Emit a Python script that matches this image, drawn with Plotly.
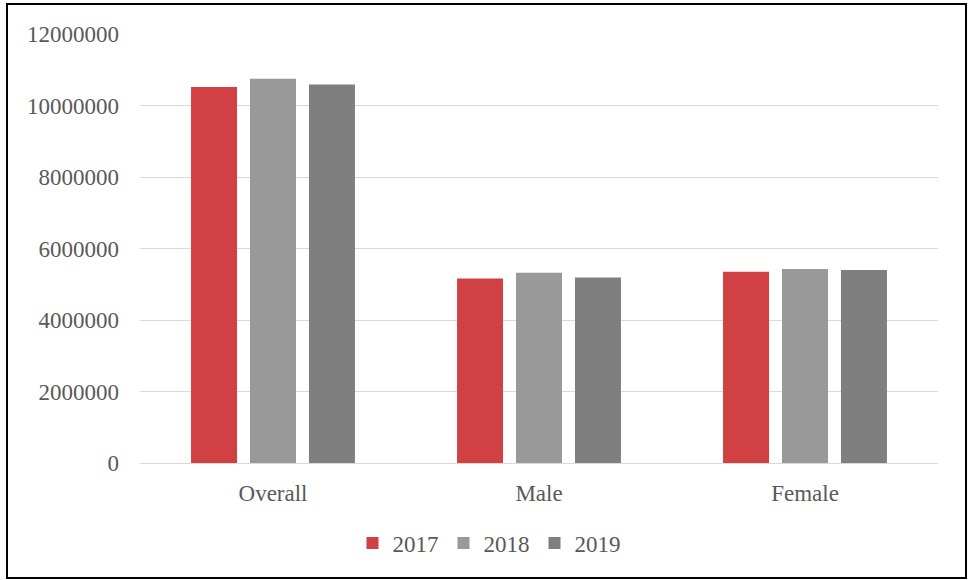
import plotly.graph_objects as go

categories = ["Overall", "Male", "Female"]
years = ["2017", "2018", "2019"]
values_2017 = [10520000, 5160000, 5350000]
values_2018 = [10750000, 5320000, 5430000]
values_2019 = [10590000, 5190000, 5400000]
series = [values_2017, values_2018, values_2019]
colors = ["#D14043", "#999999", "#7F7F7F"]
y_ticks = [0, 2000000, 4000000, 6000000, 8000000, 10000000, 12000000]

FONT = "Liberation Serif, Times New Roman, serif"

fig = go.Figure()
for name, vals, col in zip(years, series, colors):
    fig.add_trace(go.Bar(x=categories, y=vals, name=name, marker_color=col,
                         marker_line_width=0))

L, R, T, B = 140, 31, 34, 117
W, H = 969, 580
pw, ph = W - L - R, H - T - B

def px_x(px):
    return (px - L) / pw

def px_y(py):
    return (H - B - py) / ph

fig.update_layout(
    width=W, height=H,
    margin=dict(l=L, r=R, t=T, b=B),
    paper_bgcolor="white", plot_bgcolor="white",
    font=dict(family=FONT, size=23, color="#595959"),
    barmode="group", bargap=0.335, bargroupgap=0.22,
    showlegend=True,
    legend=dict(orientation="h", x=px_x(489), xanchor="center",
                y=px_y(543), yanchor="middle",
                font=dict(family=FONT, size=23, color="#595959"),
                itemwidth=30, traceorder="normal",
                entrywidth=46, entrywidthmode="pixels"),
    xaxis=dict(showgrid=False, showline=True, linecolor="#D9D9D9", linewidth=1,
               ticks="", ticklabelstandoff=9),
    yaxis=dict(range=[0, 12000000], tickvals=y_ticks,
               ticktext=[str(v) for v in y_ticks],
               showgrid=True, gridcolor="#D9D9D9", gridwidth=1,
               zeroline=False, showline=False, ticks="",
               ticklabelstandoff=20),
    shapes=[dict(type="rect", xref="paper", yref="paper",
                 x0=px_x(7), x1=px_x(966), y0=px_y(578), y1=px_y(4),
                 line=dict(color="black", width=2), fillcolor="rgba(0,0,0,0)",
                 layer="above")],
)

fig.write_html("out.html")
